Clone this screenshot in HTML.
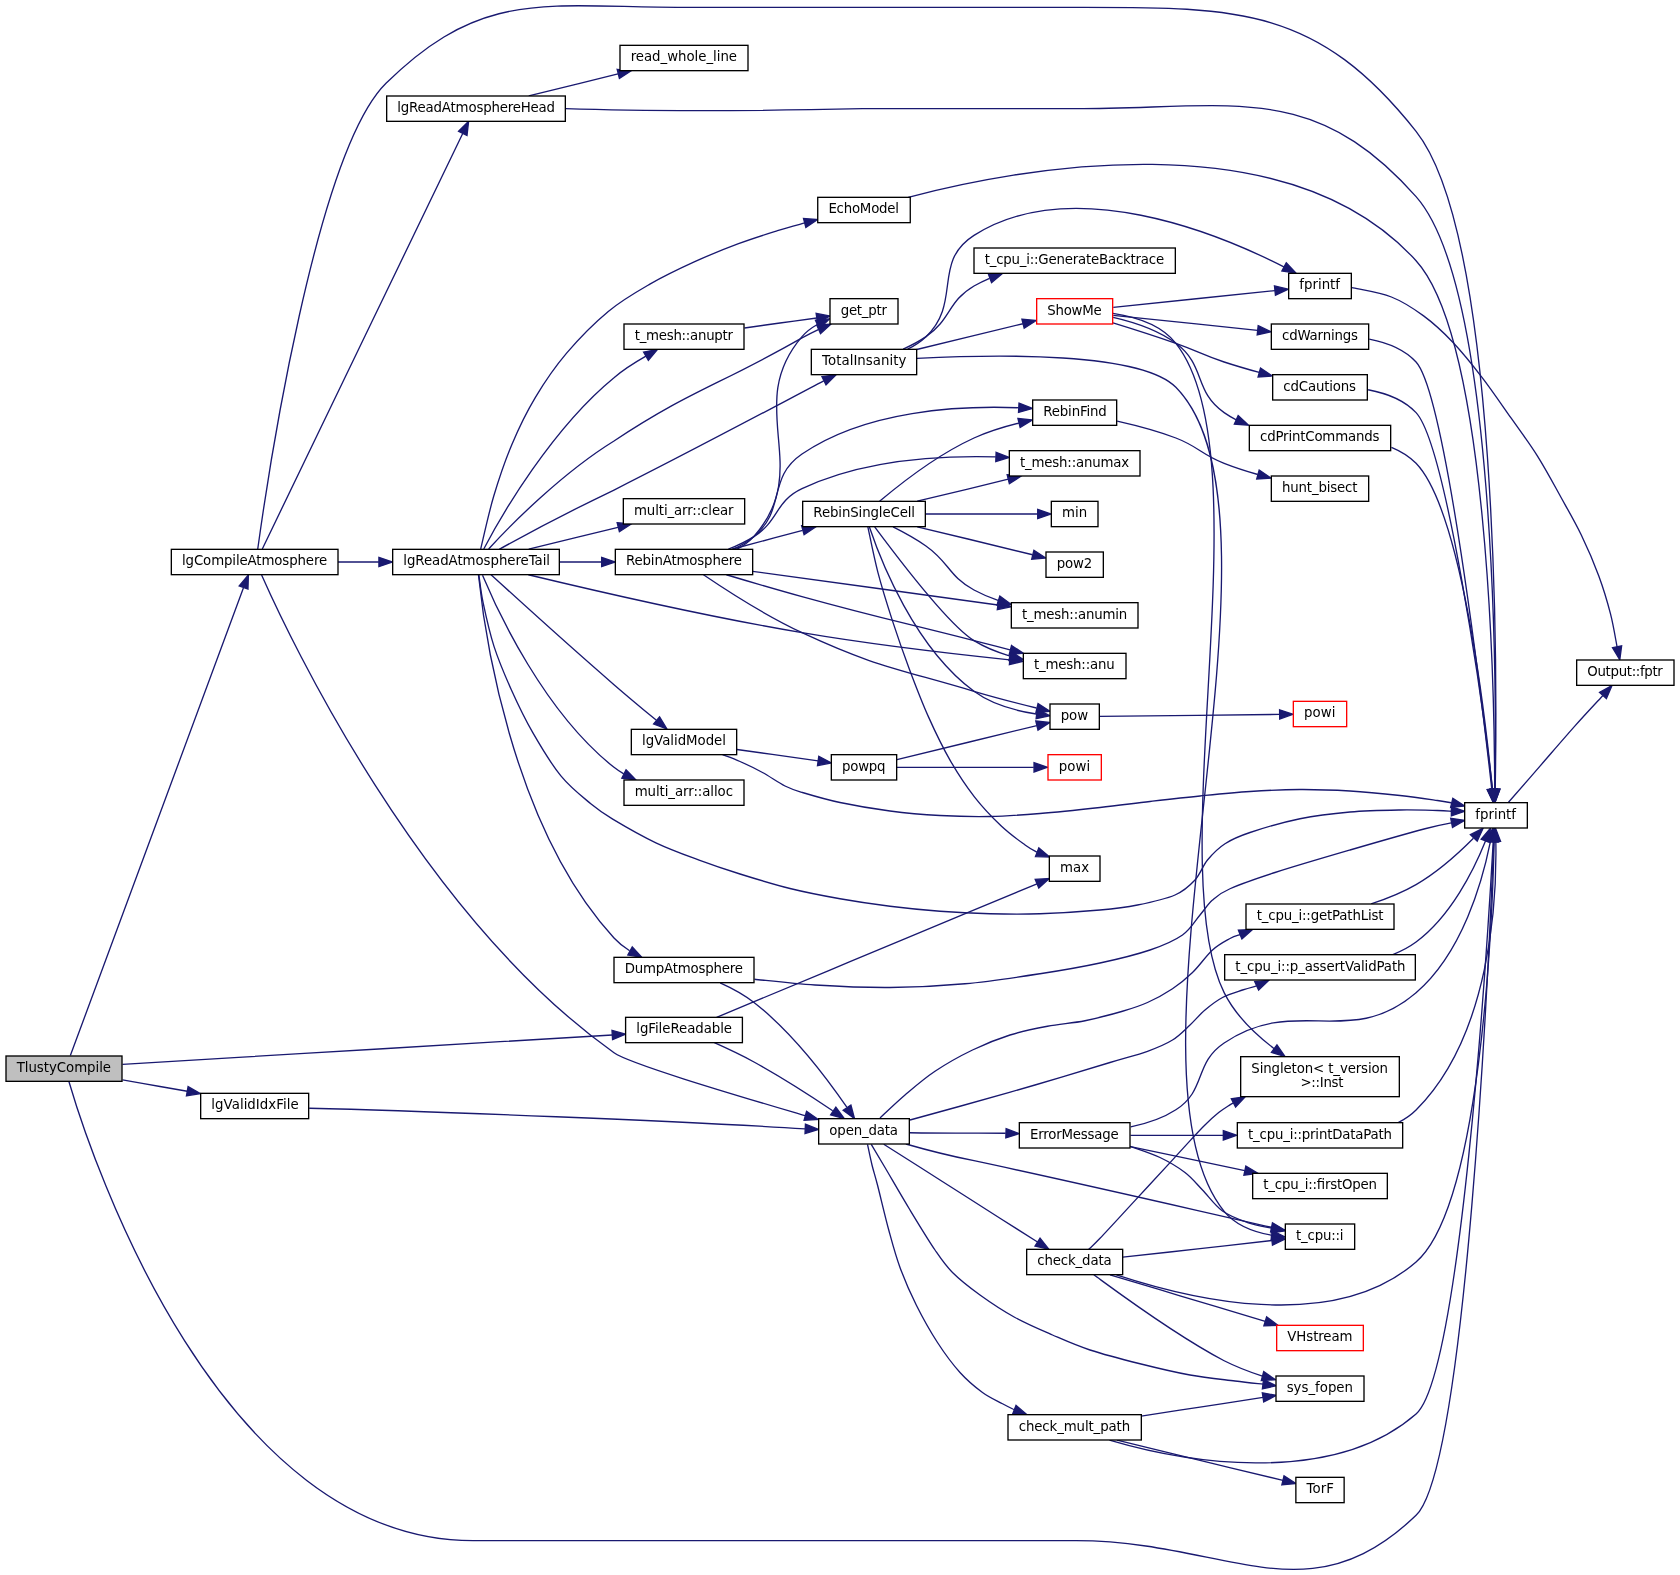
<!DOCTYPE html>
<html><head><meta charset="utf-8"><title>TlustyCompile</title>
<style>html,body{margin:0;padding:0;background:#fff}svg{display:block;will-change:transform}text{white-space:pre;font-family:"DejaVu Sans","Liberation Sans",sans-serif;font-size:10px;fill:#000}</style></head><body>
<svg width="1680" height="1575" viewBox="0 0 1260 1181.25">
<rect x="0" y="0" width="1260" height="1181.25" fill="#fff"/>
<g fill="none" stroke="#191970" stroke-width="1">
<path d="M52.77,791.66C71.74,741.52 156.73,509.83 182.54,440.99"/>
<path d="M91.88,798.22C114.06,796.9 177.81,793.1 225,790.28 272.19,787.45 335.96,783.61 375,781.28 414.04,778.94 445.18,777.08 459.22,776.24"/>
<path d="M91.88,809.93C96.56,810.75 111.9,813.46 120,814.88 128.1,816.29 137.05,817.84 140.46,818.44"/>
<path d="M51.74,811.29C68.62,869.01 164.49,1156.66 356,1155.52 356,1155.52 356,1155.52 807.01,1155.52 920.6,1155.52 980.13,1214.96 1062.05,1136.51 1099.44,1100.71 1116.62,722.68 1120.25,631.3"/>
<path d="M193.31,411.76C200.53,359.65 236.95,114.3 289.5,62.51 362.2,-9.14 409.92,5.52 512,5.52 512,5.52 512,5.52 807.01,5.52 927.67,5.52 987.31,4.19 1062.05,98.51 1124.23,176.99 1122.83,507.32 1121.42,591.77"/>
<path d="M196.73,411.69C219.37,364.77 316.76,162.86 347.04,100.15"/>
<path d="M253.53,421.5C263.42,421.5 273.89,421.5 284.16,421.5"/>
<path d="M196.2,431.21C217.11,478.41 314.88,685.87 460.5,789.56 472.36,798.02 552.5,821.55 603.8,836.8"/>
<path d="M535.76,782.04C545.09,786.21 555.95,791.33 565.49,796.5 586.04,807.78 608.41,822.22 624.51,833.02"/>
<path d="M537.45,762.97C541.62,761.24 545.83,759.5 562.5,752.55 579.17,745.6 610,732.75 637.5,721.28 665,709.8 704.12,693.44 727.5,683.7 750.88,673.96 769.38,666.3 777.75,662.82"/>
<path d="M231.88,831.19C317.75,833.24 515.93,841.05 603.76,846.64"/>
<path d="M1131.38,601.72C1135.31,597.2 1146.69,584.12 1155,574.58 1163.31,565.03 1173.38,553.26 1181.25,544.42 1189.12,535.59 1198.74,525.38 1202.24,521.57"/>
<path d="M424.08,81.5C483.15,83.51 570.74,83.17 647,81.52 647,81.52 647,81.52 807.01,81.52 924.06,81.52 984.64,60.05 1062.05,147.51 1121.74,214.95 1122.29,512.07 1121.33,591.77"/>
<path d="M396.56,71.91C416.99,66.92 442.02,60.77 463.5,55.47"/>
<path d="M359.17,431.33C359.71,434.84 360.51,443.49 362.4,452.4 364.29,461.31 367,474.01 370.5,484.8 374,495.59 378.55,506.34 383.4,517.12 388.25,527.91 393.39,538.73 399.6,549.53 405.81,560.33 413.39,573.01 420.67,581.92 427.96,590.84 436.85,597.6 443.33,603 449.8,608.4 451.43,609.48 459.53,614.33 467.62,619.18 481.12,626.97 491.92,632.1 502.72,637.22 513.81,641.18 524.33,645.08 534.84,648.98 543.64,651.95 555,655.5 566.36,659.05 580,663.28 592.5,666.38 605,669.47 617.5,671.84 630,674.06 642.5,676.28 655,678.12 667.5,679.69 680,681.25 692.5,682.5 705,683.44 717.5,684.38 730,685 742.5,685.31 755,685.62 766.25,685.78 780,685.31 793.75,684.84 812.81,683.59 825,682.5 837.19,681.41 843.75,680.62 853.12,678.75 862.5,676.88 874.06,674.38 881.25,671.25 888.44,668.12 892.19,664.38 896.25,660 900.31,655.62 901.88,649.53 905.62,645 909.38,640.47 913.44,636.25 918.75,632.81 924.06,629.38 928.12,627.5 937.5,624.38 946.88,621.25 962.5,616.62 975,614.06 987.5,611.5 1000,610.09 1012.5,609 1025,607.91 1039.06,607.69 1050,607.5 1060.94,607.31 1071.7,607.72 1078.12,607.88 1084.55,608.03 1086.79,608.34 1088.53,608.43"/>
<path d="M360.52,411.75C362.15,405.16 366.36,385.33 370.27,372.23 374.19,359.12 378.79,345.52 384,333.15 389.21,320.77 394.72,309.36 401.55,297.98 408.37,286.59 415.84,275.56 424.95,264.83 434.06,254.09 445.81,242.17 456.22,233.55 466.64,224.92 476.69,219.26 487.42,213.08 498.16,206.89 509.58,201.47 520.65,196.42 531.73,191.37 543.46,186.67 553.88,182.77 564.29,178.87 574.85,175.62 583.12,173.02 591.4,170.43 600.12,168.17 603.52,167.2"/>
<path d="M362.82,411.75C375.89,386.7 413.88,321.52 460.5,283.31 467.55,277.26 476.23,271.81 484.44,267.13"/>
<path d="M366.47,411.73C383.2,393.38 421.88,354.61 460.5,330.75 517.97,292.7 537.65,289.79 601.5,253.4 605.43,251.3 609.59,249.21 613.73,247.24"/>
<path d="M374.42,411.99C394.68,400.74 429.88,382.2 460.5,367.52 515.59,339.91 580.91,305.03 617.8,285.64"/>
<path d="M396.54,411.91C416.99,406.92 442.02,400.77 463.5,395.47"/>
<path d="M419.69,421.5C429.9,421.5 440.62,421.5 450.96,421.5"/>
<path d="M396.27,431.05C444.42,442.63 528.56,462.11 601.5,474.5 654.56,483.52 715.92,490.6 757.28,494.9"/>
<path d="M368.28,431.03C386.72,447.87 426.33,483.92 460.5,513.5 470.85,522.47 482.63,532.27 492.31,540.24"/>
<path d="M361.89,431.35C373.15,458.31 408.08,534.1 460.5,575.5 462.78,577.3 465.24,578.94 467.82,580.44"/>
<path d="M358.85,431.12C362.84,470.13 382.73,618.62 460.5,703.5 463.86,707.17 467.9,710.33 472.22,713.03"/>
<path d="M660,838.5C663.12,835.62 671.88,827.09 678.75,821.25 685.62,815.41 692.81,809.06 701.25,803.44 709.69,797.81 720,792.03 729.38,787.5 738.75,782.97 748.12,779.22 757.5,776.25 766.88,773.28 776.25,771.47 785.62,769.69 795,767.91 804.38,767.44 813.75,765.56 823.12,763.69 834.06,760.72 841.88,758.44 849.69,756.16 854.38,754.69 860.62,751.88 866.88,749.06 873.75,745.31 879.38,741.56 885,737.81 889.38,734.22 894.38,729.38 899.38,724.53 904.69,716.75 909.38,712.5 914.06,708.25 919.05,705.81 922.5,703.88 925.95,701.94 928.83,701.41 930.09,700.91"/>
<path d="M682.5,840C688.75,838.28 704.38,834.06 720,829.69 735.62,825.31 757.5,819.22 776.25,813.75 795,808.28 818.44,801.09 832.5,796.88 846.56,792.66 852.81,791.25 860.62,788.44 868.44,785.62 874.06,783.28 879.38,780 884.69,776.72 888.44,772.5 892.5,768.75 896.56,765 899.69,760.94 903.75,757.5 907.81,754.06 912.19,750.62 916.88,748.12 921.56,745.62 927.6,743.95 931.88,742.5 936.15,741.05 940.74,739.92 942.52,739.41"/>
<path d="M682.08,849.56C703.04,849.92 730.56,849.86 754.25,849.96"/>
<path d="M679.44,858C694.7,862.41 713.5,867.13 730.5,870.52 809.38,887.27 903.46,909.26 953.51,920.45"/>
<path d="M662.81,858.15C669.84,862.63 690.47,875.75 705,885 719.53,894.25 737.81,905.89 750,913.65 762.19,921.41 773.47,928.55 778.16,931.54"/>
<path d="M653.44,858.22C655.16,861.12 658.91,867.41 663.75,875.62 668.59,883.84 676.25,897.19 682.5,907.5 688.75,917.81 695.94,929.69 701.25,937.5 706.56,945.31 708.75,948.75 714.38,954.38 720,960 727.19,965.62 735,971.25 742.81,976.88 752.19,983.12 761.25,988.12 770.31,993.12 780,997.19 789.38,1001.25 798.75,1005.31 806.56,1008.91 817.5,1012.5 828.44,1016.09 842.5,1019.69 855,1022.81 867.5,1025.94 880.62,1029.09 892.5,1031.25 904.38,1033.41 917.13,1034.6 926.25,1035.75 935.37,1036.9 943.73,1037.75 947.22,1038.15"/>
<path d="M650.62,858.22C651.19,860.81 652.75,868.66 654,873.75 655.25,878.84 656.03,880.62 658.12,888.75 660.22,896.88 663.75,912.19 666.56,922.5 669.38,932.81 671.56,941.25 675,950.62 678.44,960 682.5,969.38 687.19,978.75 691.88,988.12 697.66,998.44 703.12,1006.88 708.59,1015.31 714.38,1023.12 720,1029.38 725.62,1035.62 731.56,1040.47 736.88,1044.38 742.19,1048.28 747.9,1050.66 751.88,1052.81 755.85,1054.97 759.27,1056.56 760.75,1057.31"/>
<path d="M681.18,147.97C760.33,127.07 963.48,87.19 1062.05,195.51 1115.94,254.71 1120.77,516.58 1121.03,591.45"/>
<path d="M558.38,246C562.81,245.38 575.96,243.5 585,242.25 594.04,241 608,239.14 612.61,238.52"/>
<path d="M687.65,268.84C746.74,265.7 855.73,263.85 881.91,290.5 978.57,388.91 830.82,801.78 918.11,908.5 926.68,918.98 940.39,924.03 953.48,926.35"/>
<path d="M680.7,261.85C685.71,259.36 690.54,256.29 694.5,252.5 721.54,226.7 698.92,196.49 730.5,176.51 804.07,129.97 913.32,175 962.87,200.12"/>
<path d="M677.39,261.8C683.28,259.21 689.29,256.1 694.5,252.5 713.65,239.29 710.44,226.29 730.5,214.5 734.19,212.34 738.12,210.41 742.18,208.71"/>
<path d="M687.56,262.11C711.72,256.23 742.73,248.67 767.15,242.8"/>
<path d="M552.82,411.87C557.48,409.42 561.81,406.35 565.27,402.5 611.04,351.25 556.71,304.7 601.5,252.5 604.66,248.79 608.67,245.79 613,243.36"/>
<path d="M544.79,431.06C561.64,436.11 582.71,442.31 601.5,447.5 658.54,463.27 673.16,465.86 730.5,480.5 739.24,482.74 748.55,485.11 757.53,487.4"/>
<path d="M549.49,411.98C555.16,409.48 560.68,406.37 565.33,402.5 589.89,382 575.1,358.44 601.5,340.5 649.76,307.63 719.32,304.09 763.99,305.83"/>
<path d="M546.29,411.9C552.87,409.32 559.54,406.2 565.38,402.5 584.56,390.3 581.02,376.13 601.5,366.5 647.04,345.1 704.57,341.58 746.83,342.7"/>
<path d="M548.94,411.95C565.22,407.6 584.65,402.39 602,397.75"/>
<path d="M564.52,428.52C616.32,435.57 695.23,446.41 748.42,453.73"/>
<path d="M527.59,431.11C544.47,442.55 574.14,461.73 601.5,474.5 656.39,500.12 672.44,501.23 730.5,518.5 745.89,523.08 763.28,527.56 777.38,531.01"/>
<path d="M541.88,566.03C544.06,566.88 550,568.9 555,571.12 560,573.35 566.25,576.31 571.88,579.38 577.5,582.44 583.75,587 588.75,589.5 593.75,592 595,592.31 601.88,594.38 608.75,596.44 619.06,599.56 630,601.88 640.94,604.19 655,606.62 667.5,608.25 680,609.88 692.5,610.94 705,611.62 717.5,612.31 730,612.62 742.5,612.38 755,612.12 766.25,611.25 780,610.12 793.75,609 811.25,607.12 825,605.62 838.75,604.12 850,602.56 862.5,601.12 875,599.69 887.5,598.25 900,597 912.5,595.75 925,594.44 937.5,593.62 950,592.81 962.5,592.19 975,592.12 987.5,592.06 1000,592.5 1012.5,593.25 1025,594 1039.06,595.44 1050,596.62 1060.94,597.81 1071.66,599.45 1078.12,600.38 1084.59,601.3 1087.02,601.86 1088.8,602.16"/>
<path d="M552.69,562.1C572.18,564.84 595.21,568.1 613.55,570.72"/>
<path d="M565.88,734.44C573.44,735.16 594.31,737.72 611.25,738.75 628.19,739.78 648.75,740.78 667.5,740.62 686.25,740.47 705,739.53 723.75,737.81 742.5,736.09 763.12,732.91 780,730.31 796.88,727.72 811.25,725.22 825,722.25 838.75,719.28 852.19,716 862.5,712.5 872.81,709 880.62,705.62 886.88,701.25 893.12,696.88 896.25,690.62 900,686.25 903.75,681.88 905.62,678.28 909.38,675 913.12,671.72 914.69,670 922.5,666.56 930.31,663.12 941.25,659.22 956.25,654.38 971.25,649.53 993.75,642.97 1012.5,637.5 1031.25,632.03 1056.05,624.95 1068.75,621.56 1081.45,618.17 1085.39,617.89 1088.71,617.15"/>
<path d="M540.1,737.09C548.64,740.91 557.88,745.88 565.5,751.82 594.63,774.72 620.67,809.47 635.1,830.43"/>
<path d="M1028.36,677.94C1039.61,674.27 1051.69,669.49 1062.05,663.5 1078.23,654.15 1093.95,639.94 1105.08,628.74"/>
<path d="M1044.66,715.9C1050.86,713.45 1056.83,710.37 1062.05,706.5 1088.25,687.09 1105.41,652.39 1114.13,630.73"/>
<path d="M848.07,845.21C859.72,842.77 871.94,838.84 881.91,832.36 905.09,817.45 895.27,797.57 918.11,782.23 972.35,745.59 1011.76,787.51 1062.05,744.5 1096.89,714.7 1111.92,660.57 1117.75,631.4"/>
<path d="M847.5,859.72C851.25,861.12 863.12,864.85 870,868.12 876.88,871.4 883.44,875.31 888.75,879.38 894.06,883.44 897.19,887.69 901.88,892.5 906.56,897.31 911.25,904.19 916.88,908.25 922.5,912.31 929.41,914.71 935.62,916.88 941.84,919.04 951.06,920.52 954.15,921.25"/>
<path d="M847.85,851.5C868.3,851.5 893.66,851.5 917.22,851.5"/>
<path d="M847.85,860.03C873.14,865.31 905.95,872.16 933.57,877.93"/>
<path d="M837.3,956.07C889.99,973.39 998.91,1001.31 1062.05,946.5 1110.2,904.7 1119.05,696.66 1120.65,631.24"/>
<path d="M842.1,942.9C851.75,941.83 881.36,938.54 900,936.45 918.64,934.36 944.97,931.39 953.96,930.38"/>
<path d="M820.39,956.11C840.63,970.86 880.67,1000.86 918.11,1020.56 927.17,1025.12 937.2,1029.01 946.82,1032.08"/>
<path d="M816.56,936.97C817.97,935.6 819.23,934.81 825,928.72 830.77,922.64 842.45,909.87 851.18,900.45 859.9,891.02 870.36,879.76 877.35,872.18 884.34,864.59 888.74,859.64 893.1,854.93 897.46,850.21 900.04,847.31 903.53,843.9 907.01,840.49 910.88,836.99 914.03,834.45 917.18,831.91 920.58,829.89 922.43,828.68 924.27,827.46 924.65,827.44 925.09,827.19"/>
<path d="M832.5,956.1C841.25,958.72 865.59,966.03 885,971.85 904.41,977.67 938.29,987.84 948.94,991.03"/>
<path d="M832.09,1080.02C882.52,1094.93 996.9,1117.28 1062.05,1060.5 1095.09,1031.71 1115.16,715.04 1119.9,631.57"/>
<path d="M855.97,1062.07C863.31,1060.95 884.79,1057.66 900,1055.32 915.21,1052.99 939.39,1049.26 947.26,1048.05"/>
<path d="M837.75,1080.15C848.12,1082.68 879.26,1090.28 900,1095.3 920.74,1100.32 951.83,1107.79 962.2,1110.29"/>
<path d="M1014,215.7C1018.93,216.88 1034.6,219.21 1043.55,222.75 1052.5,226.29 1060.02,231.27 1067.7,236.92 1075.37,242.57 1082.3,248.97 1089.6,256.65 1096.9,264.32 1104.2,273.48 1111.5,282.98 1118.8,292.48 1126.46,303.8 1133.4,313.65 1140.34,323.5 1146.92,332.23 1153.12,342.08 1159.33,351.93 1165.12,362.89 1170.6,372.75 1176.07,382.61 1181.22,391.39 1185.97,401.25 1190.72,411.11 1195.45,422.07 1199.1,431.92 1202.75,441.77 1205.59,451.49 1207.88,460.35 1210.16,469.21 1211.97,480.94 1212.79,485.06"/>
<path d="M834.94,230.53C868.15,227.12 921.75,221.52 956.2,217.93"/>
<path d="M834.73,235.07C851.26,237.55 870.85,243.51 881.91,257.5 949.37,342.8 869.9,647.15 918.11,744.5 926.46,761.37 941.53,775.75 955.62,786.5"/>
<path d="M834.94,236.47C864.22,239.48 909.28,244.18 943.14,247.72"/>
<path d="M834.74,242.12C849.06,246.52 866.59,252.09 881.91,257.5 898.18,263.25 901.71,266.15 918.11,271.5 926.56,274.26 935.66,276.92 944.44,279.34"/>
<path d="M834.86,238.06C850.06,241.52 868.31,247.46 881.91,257.5 904.61,274.25 895.01,293.3 918.11,309.5 920.95,311.5 924,313.29 927.18,314.89"/>
<path d="M837.87,315.84C851.82,318.98 868.11,323.23 881.91,328.5 898.88,335.01 901.18,340.89 918.11,347.5 926.12,350.64 934.85,353.44 943.35,355.87"/>
<path d="M650.85,394.95C652.11,400.68 655.35,417.55 658.42,429.3 661.5,441.05 665.38,453.39 669.3,465.45 673.22,477.51 677.45,489.61 681.97,501.67 686.5,513.74 691.33,526.36 696.45,537.83 701.58,549.29 707,560.49 712.72,570.45 718.45,580.41 724.46,589.46 730.8,597.6 737.14,605.74 744.41,613.25 750.75,619.28 757.09,625.3 764.31,630.43 768.82,633.75 773.34,637.07 776.36,638.26 777.86,639.17"/>
<path d="M656.01,395.18C672.25,416.99 711.95,468.98 730.5,480.5 738.66,485.57 748.13,489.29 757.51,492.02"/>
<path d="M659.68,375.99C674.65,363.36 702.88,341.17 730.5,328.5 740.81,323.77 752.8,320.09 764.15,317.28"/>
<path d="M687.94,375.91C708.81,370.9 734.34,364.72 756.17,359.4"/>
<path d="M669.8,395.18C677.8,399.19 686.81,404.15 694.46,409.5 712.24,422 711.41,432.18 730.5,442.5 736.12,445.55 742.25,448.11 748.5,450.28"/>
<path d="M652.05,395.31C660.41,420.09 685.82,485.56 730.5,518.5 743.99,528.45 762.16,533.21 777.18,535.48"/>
<path d="M694.04,385.5C721.66,385.5 755.28,385.5 778.24,385.5"/>
<path d="M687.94,395.09C715.01,401.59 749.83,410.06 774.44,416.06"/>
<path d="M824.78,537.31C856.04,536.96 921.15,536.25 959.31,535.83"/>
<path d="M672.69,569.73C700.9,562.86 747.93,551.4 777.66,544.16"/>
<path d="M672.69,575.5C700.17,575.5 745.51,575.5 775.31,575.5"/>
<path d="M1048.65,841.95C1053.59,839.47 1058.17,836.37 1062.05,832.5 1118.13,776.59 1122.66,674.27 1121.88,631.31"/>
<path d="M1026.94,254.34C1039.7,256.8 1053.1,261.76 1062.05,271.5 1084.09,295.51 1111.1,522.96 1118.84,591.83"/>
<path d="M1026.09,292.3C1039.06,294.72 1052.83,299.67 1062.05,309.5 1084.5,333.6 1112.2,528 1119.4,591.8"/>
<path d="M1043.58,335.48C1050.48,338.31 1056.93,342.19 1062.05,347.5 1096.22,382.99 1113.9,536.67 1119.23,591.76"/>
</g>
<g fill="#191970" stroke="#191970" stroke-width="1">
<polygon points="179.4,439.4 186.28,431.21 185.98,441.8 179.4,439.4"/>
<polygon points="459.42,779.73 469.2,775.65 459.01,772.74"/>
<polygon points="139.84,821.88 150.3,820.2 141.07,814.99"/>
<polygon points="1116.73,631.06 1120.64,621.2 1123.78,631.33 1116.73,631.06"/>
<polygon points="1124.95,591.88 1121.22,601.81 1117.89,591.75 1124.95,591.88"/>
<polygon points="343.94,98.51 351.45,91.03 350.25,101.55 343.94,98.51"/>
<polygon points="284.18,418 294.35,421.5 284.18,425 284.18,418"/>
<polygon points="604.92,833.49 613.64,839.54 603.07,840.22 604.92,833.49"/>
<polygon points="626.89,830.4 633.21,838.91 622.96,836.2 626.89,830.4"/>
<polygon points="779.11,666.04 786.97,658.95 776.4,659.59"/>
<polygon points="604.07,843.16 613.91,847.12 603.78,850.14 604.07,843.16"/>
<polygon points="1204.82,523.94 1209,514.2 1199.66,519.21"/>
<polygon points="1124.87,591.95 1121.18,601.9 1117.81,591.85 1124.87,591.95"/>
<polygon points="462.87,52.02 473.42,53.02 464.55,58.82 462.87,52.02"/>
<polygon points="1088.51,611.93 1098.53,608.47 1088.54,604.93"/>
<polygon points="604.39,170.59 613.2,164.7 602.64,163.81"/>
<polygon points="482.69,264.04 493.07,262.18 486.27,270.19 482.69,264.04"/>
<polygon points="612.66,243.93 623.23,243.02 615.39,250.28 612.66,243.93"/>
<polygon points="616.45,282.43 626.98,281.12 619.5,288.68 616.45,282.43"/>
<polygon points="462.87,392.02 473.42,393.02 464.55,398.82 462.87,392.02"/>
<polygon points="451.24,418 461.41,421.5 451.24,425 451.24,418"/>
<polygon points="757.75,491.43 767.34,495.93 757.04,498.39 757.75,491.43"/>
<polygon points="494.68,537.65 500.19,546.72 490.2,543.05 494.68,537.65"/>
<polygon points="469.51,577.37 476.89,584.97 466.38,583.63 469.51,577.37"/>
<polygon points="474.21,710.13 481.34,717.96 470.88,716.29 474.21,710.13"/>
<polygon points="931.39,704.16 939.38,697.2 928.79,697.66"/>
<polygon points="943.98,742.58 951.6,735.22 941.05,736.23"/>
<polygon points="754.59,846.47 764.48,850.2 754.37,853.46 754.59,846.47"/>
<polygon points="954.34,917.06 963.5,922.49 952.95,923.9 954.34,917.06"/>
<polygon points="776.28,934.49 786.6,936.9 780.04,928.58"/>
<polygon points="946.8,1041.62 957.15,1039.35 947.64,1034.67"/>
<polygon points="759.47,1060.57 770.06,1060.95 762.02,1054.05"/>
<polygon points="1124.57,591.8 1121.04,601.8 1117.51,591.8 1124.57,591.8"/>
<polygon points="613.11,241.98 622.5,237.08 612.1,235.06"/>
<polygon points="954.22,922.92 963.74,927.68 953.31,929.86 954.22,922.92"/>
<polygon points="964.68,197.11 971.95,204.85 961.41,203.32 964.68,197.11"/>
<polygon points="741.24,205.33 751.83,205.11 743.68,211.89 741.24,205.33"/>
<polygon points="766.45,239.37 777.17,240.4 768.14,246.17 766.45,239.37"/>
<polygon points="611.59,240.16 622.14,239.16 614.52,246.52 611.59,240.16"/>
<polygon points="758.66,484.08 767.48,489.94 756.93,490.86 758.66,484.08"/>
<polygon points="764.26,302.34 774.4,306.34 763.89,309.33 764.26,302.34"/>
<polygon points="747.09,339.21 756.96,343.06 746.84,346.2 747.09,339.21"/>
<polygon points="601.23,394.33 611.93,395.1 603.08,401.09 601.23,394.33"/>
<polygon points="748.94,450.26 758.37,455.09 747.98,457.2 748.94,450.26"/>
<polygon points="778.53,527.69 787.43,533.44 776.89,534.49 778.53,527.69"/>
<polygon points="1087.98,605.56 1098.53,604.5 1089.62,598.75"/>
<polygon points="614.1,567.27 623.5,572.15 613.11,574.2 614.1,567.27"/>
<polygon points="1089.39,620.59 1098.53,615.22 1088.04,613.72"/>
<polygon points="638.16,828.73 640.88,838.97 632.37,832.62 638.16,828.73"/>
<polygon points="1102.8,626.04 1112.32,621.23 1107.9,630.88 1102.8,626.04"/>
<polygon points="1110.88,629.38 1117.74,621.27 1117.48,631.86 1110.88,629.38"/>
<polygon points="1114.34,630.43 1119.6,621.22 1121.28,631.68 1114.34,630.43"/>
<polygon points="953.5,924.69 963.97,923.1 954.79,917.81"/>
<polygon points="917.49,848 927.54,851.5 917.49,855 917.49,848"/>
<polygon points="934.38,874.52 943.5,880 932.93,881.37 934.38,874.52"/>
<polygon points="1117.12,630.98 1120.86,621.06 1124.18,631.13 1117.12,630.98"/>
<polygon points="954.36,933.86 963.9,929.25 953.57,926.9"/>
<polygon points="947.78,1028.75 956.61,1034.8 945.99,1035.46 947.78,1028.75"/>
<polygon points="926.7,830.3 933.97,822.6 923.48,824.08"/>
<polygon points="947.91,994.38 958.5,993.97 949.97,987.69"/>
<polygon points="1116.39,631.19 1120.47,621.4 1123.43,631.58 1116.39,631.19"/>
<polygon points="947.79,1051.51 957.15,1046.55 946.74,1044.59"/>
<polygon points="961.38,1113.69 971.93,1112.62 963.02,1106.89"/>
<polygon points="1209.37,485.78 1214.85,494.85 1216.22,484.34"/>
<polygon points="955.85,214.44 966.22,216.88 956.59,221.41 955.85,214.44"/>
<polygon points="957.71,783.68 963.76,792.4 953.56,789.33 957.71,783.68"/>
<polygon points="943.63,244.25 953.26,248.77 942.89,251.21 943.63,244.25"/>
<polygon points="945.38,275.97 954.17,281.96 943.54,282.73 945.38,275.97"/>
<polygon points="928.6,311.68 936.38,318.91 925.76,318.09 928.6,311.68"/>
<polygon points="944.39,352.52 953.16,358.54 942.53,359.27 944.39,352.52"/>
<polygon points="776.61,642.43 787.2,642.75 779.12,635.9"/>
<polygon points="758.4,488.64 767.21,494.52 756.65,495.42 758.4,488.64"/>
<polygon points="763.45,313.85 774.33,314.94 765.11,320.66 763.45,313.85"/>
<polygon points="755.37,355.99 765.92,357.02 757.03,362.79 755.37,355.99"/>
<polygon points="749.86,447.04 758.36,453.36 747.77,453.72 749.86,447.04"/>
<polygon points="777.95,532.04 787.45,536.73 777.1,538.99 777.95,532.04"/>
<polygon points="778.28,382 788.28,385.5 778.28,389 778.28,382"/>
<polygon points="775.43,412.7 784.31,418.46 773.77,419.5 775.43,412.7"/>
<polygon points="959.69,532.33 969.78,535.71 959.77,539.32 959.69,532.33"/>
<polygon points="776.85,540.76 787.39,541.79 778.5,547.56 776.85,540.76"/>
<polygon points="775.53,572 785.53,575.5 775.53,579 775.53,572"/>
<polygon points="1118.35,631.18 1121.57,621.08 1125.41,630.97 1118.35,631.18"/>
<polygon points="1122.34,591.48 1119.94,601.8 1115.33,592.24 1122.34,591.48"/>
<polygon points="1122.9,591.5 1120.3,601.85 1115.9,592.2"/>
<polygon points="1122.76,591.66 1120.18,601.94 1115.73,592.31 1122.76,591.66"/>
</g>
<rect x="4.5" y="792" width="87" height="19" fill="#bfbfbf" stroke="#000" stroke-width="1"/>
<text x="12.5" y="804" textLength="70.75" lengthAdjust="spacing">TlustyCompile</text>
<rect x="128.5" y="412" width="125" height="19" fill="#fff" stroke="#000" stroke-width="1"/>
<text x="136.5" y="424" textLength="108.88" lengthAdjust="spacing">lgCompileAtmosphere</text>
<rect x="469.2" y="763" width="87.6" height="19" fill="#fff" stroke="#000" stroke-width="1"/>
<text x="477.2" y="775" textLength="71.8" lengthAdjust="spacing">lgFileReadable</text>
<rect x="150.5" y="820" width="81" height="19" fill="#fff" stroke="#000" stroke-width="1"/>
<text x="158.5" y="832" textLength="65.49" lengthAdjust="spacing">lgValidIdxFile</text>
<rect x="1098.5" y="602" width="47" height="19" fill="#fff" stroke="#000" stroke-width="1"/>
<text x="1106.5" y="614" textLength="30.5" lengthAdjust="spacing">fprintf</text>
<rect x="290" y="72" width="134" height="19" fill="#fff" stroke="#000" stroke-width="1"/>
<text x="298" y="84" textLength="118.25" lengthAdjust="spacing">lgReadAtmosphereHead</text>
<rect x="294.5" y="412" width="125" height="19" fill="#fff" stroke="#000" stroke-width="1"/>
<text x="302.5" y="424" textLength="109.99" lengthAdjust="spacing">lgReadAtmosphereTail</text>
<rect x="614" y="839" width="68" height="19" fill="#fff" stroke="#000" stroke-width="1"/>
<text x="622" y="851" textLength="51.5" lengthAdjust="spacing">open_data</text>
<rect x="787" y="642" width="38" height="19" fill="#fff" stroke="#000" stroke-width="1"/>
<text x="795" y="654" textLength="21.88" lengthAdjust="spacing">max</text>
<rect x="1182.5" y="495" width="73" height="19" fill="#fff" stroke="#000" stroke-width="1"/>
<text x="1190.5" y="507" textLength="56.62" lengthAdjust="spacing">Output::fptr</text>
<rect x="465" y="34" width="96" height="19" fill="#fff" stroke="#000" stroke-width="1"/>
<text x="473" y="46" textLength="79.75" lengthAdjust="spacing">read_whole_line</text>
<rect x="613.3" y="148" width="69.4" height="19" fill="#fff" stroke="#000" stroke-width="1"/>
<text x="621.3" y="160" textLength="52.95" lengthAdjust="spacing">EchoModel</text>
<rect x="468" y="243" width="90" height="19" fill="#fff" stroke="#000" stroke-width="1"/>
<text x="476" y="255" textLength="73.75" lengthAdjust="spacing">t_mesh::anuptr</text>
<rect x="622.5" y="224" width="51" height="19" fill="#fff" stroke="#000" stroke-width="1"/>
<text x="630.5" y="236" textLength="34.75" lengthAdjust="spacing">get_ptr</text>
<rect x="608.5" y="262" width="79" height="19" fill="#fff" stroke="#000" stroke-width="1"/>
<text x="616.5" y="274" textLength="63.37" lengthAdjust="spacing">TotalInsanity</text>
<rect x="467.5" y="374" width="91" height="19" fill="#fff" stroke="#000" stroke-width="1"/>
<text x="475.5" y="386" textLength="74.62" lengthAdjust="spacing">multi_arr::clear</text>
<rect x="461.5" y="412" width="103" height="19" fill="#fff" stroke="#000" stroke-width="1"/>
<text x="469.5" y="424" textLength="87" lengthAdjust="spacing">RebinAtmosphere</text>
<rect x="767.5" y="490" width="77" height="19" fill="#fff" stroke="#000" stroke-width="1"/>
<text x="775.5" y="502" textLength="60.5" lengthAdjust="spacing">t_mesh::anu</text>
<rect x="473.5" y="547" width="79" height="19" fill="#fff" stroke="#000" stroke-width="1"/>
<text x="481.5" y="559" textLength="62.99" lengthAdjust="spacing">lgValidModel</text>
<rect x="468" y="585" width="90" height="19" fill="#fff" stroke="#000" stroke-width="1"/>
<text x="476" y="597" textLength="73.75" lengthAdjust="spacing">multi_arr::alloc</text>
<rect x="460.5" y="718" width="105" height="19" fill="#fff" stroke="#000" stroke-width="1"/>
<text x="468.5" y="730" textLength="88.75" lengthAdjust="spacing">DumpAtmosphere</text>
<rect x="934.5" y="678" width="111" height="19" fill="#fff" stroke="#000" stroke-width="1"/>
<text x="942.5" y="690" textLength="95.12" lengthAdjust="spacing">t_cpu_i::getPathList</text>
<rect x="918.5" y="716" width="143" height="19" fill="#fff" stroke="#000" stroke-width="1"/>
<text x="926.5" y="728" textLength="127.62" lengthAdjust="spacing">t_cpu_i::p_assertValidPath</text>
<rect x="764.5" y="842" width="83" height="19" fill="#fff" stroke="#000" stroke-width="1"/>
<text x="772.5" y="854" textLength="66.5" lengthAdjust="spacing">ErrorMessage</text>
<rect x="964" y="918" width="52" height="19" fill="#fff" stroke="#000" stroke-width="1"/>
<text x="972" y="930" textLength="35.62" lengthAdjust="spacing">t_cpu::i</text>
<rect x="770" y="937" width="72" height="19" fill="#fff" stroke="#000" stroke-width="1"/>
<text x="778" y="949" textLength="55.75" lengthAdjust="spacing">check_data</text>
<rect x="957" y="1032" width="66" height="19" fill="#fff" stroke="#000" stroke-width="1"/>
<text x="965" y="1044" textLength="49.75" lengthAdjust="spacing">sys_fopen</text>
<rect x="756" y="1061" width="100" height="19" fill="#fff" stroke="#000" stroke-width="1"/>
<text x="764" y="1073" textLength="83.62" lengthAdjust="spacing">check_mult_path</text>
<rect x="966.5" y="205" width="47" height="19" fill="#fff" stroke="#000" stroke-width="1"/>
<text x="974.5" y="217" textLength="30.5" lengthAdjust="spacing">fprintf</text>
<rect x="730.5" y="186" width="151" height="19" fill="#fff" stroke="#000" stroke-width="1"/>
<text x="738.5" y="198" textLength="134.62" lengthAdjust="spacing">t_cpu_i::GenerateBacktrace</text>
<rect x="777.5" y="224" width="57" height="19" fill="#fff" stroke="#f00" stroke-width="1"/>
<text x="785.5" y="236" textLength="40.75" lengthAdjust="spacing">ShowMe</text>
<rect x="774.5" y="300" width="63" height="19" fill="#fff" stroke="#000" stroke-width="1"/>
<text x="782.5" y="312" textLength="47.5" lengthAdjust="spacing">RebinFind</text>
<rect x="757" y="338" width="98" height="19" fill="#fff" stroke="#000" stroke-width="1"/>
<text x="765" y="350" textLength="81.88" lengthAdjust="spacing">t_mesh::anumax</text>
<rect x="602" y="376" width="92" height="19" fill="#fff" stroke="#000" stroke-width="1"/>
<text x="610" y="388" textLength="76.25" lengthAdjust="spacing">RebinSingleCell</text>
<rect x="758.5" y="452" width="95" height="19" fill="#fff" stroke="#000" stroke-width="1"/>
<text x="766.5" y="464" textLength="78.88" lengthAdjust="spacing">t_mesh::anumin</text>
<rect x="787.5" y="528" width="37" height="19" fill="#fff" stroke="#000" stroke-width="1"/>
<text x="795.5" y="540" textLength="20.62" lengthAdjust="spacing">pow</text>
<rect x="623.5" y="566" width="49" height="19" fill="#fff" stroke="#000" stroke-width="1"/>
<text x="631.5" y="578" textLength="32.62" lengthAdjust="spacing">powpq</text>
<rect x="928" y="842" width="124" height="19" fill="#fff" stroke="#000" stroke-width="1"/>
<text x="936" y="854" textLength="108" lengthAdjust="spacing">t_cpu_i::printDataPath</text>
<rect x="939.5" y="880" width="101" height="19" fill="#fff" stroke="#000" stroke-width="1"/>
<text x="947.5" y="892" textLength="85.25" lengthAdjust="spacing">t_cpu_i::firstOpen</text>
<rect x="930.5" y="792.5" width="119" height="30" fill="#fff" stroke="#000" stroke-width="1"/>
<text x="938.5" y="804.5" textLength="102.5" lengthAdjust="spacing">Singleton&lt; t_version</text>
<text x="972.38" y="815.5" textLength="35.25" lengthAdjust="spacing"> &gt;::Inst</text>
<rect x="957.5" y="994" width="65" height="19" fill="#fff" stroke="#f00" stroke-width="1"/>
<text x="965.5" y="1006" textLength="48.88" lengthAdjust="spacing">VHstream</text>
<rect x="971.9" y="1108" width="36.2" height="19" fill="#fff" stroke="#000" stroke-width="1"/>
<text x="979.9" y="1120" textLength="20.59" lengthAdjust="spacing">TorF</text>
<rect x="953.5" y="243" width="73" height="19" fill="#fff" stroke="#000" stroke-width="1"/>
<text x="961.5" y="255" textLength="57" lengthAdjust="spacing">cdWarnings</text>
<rect x="954.5" y="281" width="71" height="19" fill="#fff" stroke="#000" stroke-width="1"/>
<text x="962.5" y="293" textLength="54.5" lengthAdjust="spacing">cdCautions</text>
<rect x="937" y="319" width="106" height="19" fill="#fff" stroke="#000" stroke-width="1"/>
<text x="945" y="331" textLength="89.62" lengthAdjust="spacing">cdPrintCommands</text>
<rect x="953.5" y="357" width="73" height="19" fill="#fff" stroke="#000" stroke-width="1"/>
<text x="961.5" y="369" textLength="56.62" lengthAdjust="spacing">hunt_bisect</text>
<rect x="788.5" y="376" width="35" height="19" fill="#fff" stroke="#000" stroke-width="1"/>
<text x="796.5" y="388" textLength="18.88" lengthAdjust="spacing">min</text>
<rect x="784.5" y="414" width="43" height="19" fill="#fff" stroke="#000" stroke-width="1"/>
<text x="792.5" y="426" textLength="26.62" lengthAdjust="spacing">pow2</text>
<rect x="786" y="566" width="40" height="19" fill="#fff" stroke="#f00" stroke-width="1"/>
<text x="794" y="578" textLength="23.62" lengthAdjust="spacing">powi</text>
<rect x="970" y="526" width="40" height="19" fill="#fff" stroke="#f00" stroke-width="1"/>
<text x="978" y="538" textLength="23.62" lengthAdjust="spacing">powi</text>
</svg></body></html>
